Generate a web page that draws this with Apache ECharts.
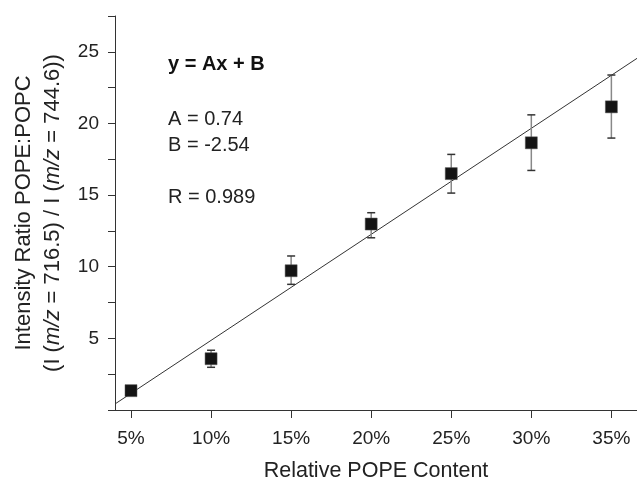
<!DOCTYPE html>
<html>
<head>
<meta charset="utf-8">
<script src="https://cdn.jsdelivr.net/npm/echarts@6/dist/echarts.min.js"></script>
<style>
  html, body { margin: 0; padding: 0; background: #fff; }
  #chart { width: 637px; height: 480px; }
</style>
</head>
<body>
<div id="chart"></div>
<script>
// POPE content (%) and measured intensity ratio with error bars
const xValues = [5, 10, 15, 20, 25, 30, 35]
const yMeans = [1.35, 3.58, 9.72, 12.98, 16.5, 18.65, 21.16]
const yLower = [1.05, 2.98, 8.77, 12.02, 15.14, 16.72, 18.98]
const yUpper = [1.65, 4.17, 10.75, 13.77, 17.84, 20.6, 23.38]
const xTicks = [5, 10, 15, 20, 25, 30, 35]

// linear fit y = Ax + B
const fitA = 0.74
const fitB = -2.54
const xMin = 4
const xMax = 36.6

const font = '"Liberation Sans", Arial, Helvetica, sans-serif'
const ink = '#222'
const axisColor = '#333'

const points = xValues.map((x, i) => [x, yMeans[i]])
const bars = xValues.map((x, i) => [x, yLower[i], yUpper[i]])
const fitLine = [xMin, xMax].map(x => [x, fitA * x + fitB])

const chart = echarts.init(document.getElementById('chart'))

chart.setOption({
  animation: false,
  backgroundColor: '#fff',
  grid: { left: 115, right: 0, top: 16, bottom: 70, outerBoundsMode: 'none', containLabel: false },
  xAxis: {
    type: 'value',
    min: xMin,
    max: xMax,
    name: 'Relative POPE Content',
    nameLocation: 'middle',
    nameGap: 50,
    nameTextStyle: { fontFamily: font, fontSize: 21.5, color: ink },
    axisLine: { lineStyle: { color: axisColor, width: 1 } },
    axisTick: { length: 8, customValues: xTicks, lineStyle: { color: axisColor } },
    axisLabel: {
      customValues: xTicks,
      margin: 19,
      fontFamily: font,
      fontSize: 19,
      color: ink,
      formatter: v => v + '%',
    },
    splitLine: { show: false },
  },
  yAxis: {
    type: 'value',
    min: 0,
    max: 27.5,
    interval: 2.5,
    name: '{n|Intensity Ratio POPE:POPC}\n{n|(I (}{i|m/z}{n| = 716.5) / I (}{i|m/z}{n| = 744.6))}',
    nameLocation: 'middle',
    nameRotate: 90,
    nameGap: 47,
    nameTextStyle: {
      fontFamily: font,
      fontSize: 22,
      color: ink,
      lineHeight: 29,
      rich: {
        n: { fontFamily: font, fontSize: 22, color: ink, lineHeight: 29 },
        i: { fontFamily: font, fontSize: 22, color: ink, lineHeight: 29, fontStyle: 'italic' },
      },
    },
    axisLine: { show: true, lineStyle: { color: axisColor, width: 1 } },
    axisTick: { show: true, length: 7, lineStyle: { color: axisColor } },
    axisLabel: {
      margin: 16,
      fontFamily: font,
      fontSize: 19,
      color: ink,
      formatter: v => (v > 0 && v % 5 === 0 ? String(v) : ''),
    },
    splitLine: { show: false },
  },
  graphic: [
    { type: 'text', left: 168, top: 54, style: { text: 'y = Ax + B', font: 'bold 20px ' + font, fill: '#111' } },
    { type: 'text', left: 168, top: 109, style: { text: 'A = 0.74', font: '20px ' + font, fill: ink } },
    { type: 'text', left: 168, top: 135, style: { text: 'B = -2.54', font: '20px ' + font, fill: ink } },
    { type: 'text', left: 168, top: 187, style: { text: 'R = 0.989', font: '20px ' + font, fill: ink } },
  ],
  series: [
    {
      type: 'line',
      data: fitLine,
      symbol: 'none',
      lineStyle: { color: '#333', width: 1 },
      z: 1,
    },
    {
      type: 'custom',
      data: bars,
      encode: { x: 0, y: [1, 2] },
      z: 2,
      renderItem(params, api) {
        const x = api.value(0)
        const lo = api.coord([x, api.value(1)])
        const hi = api.coord([x, api.value(2)])
        const w = 4
        return {
          type: 'group',
          children: [
            { type: 'line', shape: { x1: lo[0], y1: lo[1], x2: hi[0], y2: hi[1] }, style: { stroke: '#888', lineWidth: 1.5 } },
            { type: 'line', shape: { x1: hi[0] - w, y1: hi[1], x2: hi[0] + w, y2: hi[1] }, style: { stroke: '#333', lineWidth: 1.5 } },
            { type: 'line', shape: { x1: lo[0] - w, y1: lo[1], x2: lo[0] + w, y2: lo[1] }, style: { stroke: '#333', lineWidth: 1.5 } },
          ],
        }
      },
    },
    {
      type: 'scatter',
      data: points,
      symbol: 'rect',
      symbolSize: 12,
      itemStyle: { color: '#141414', borderColor: '#555', borderWidth: 0.5, opacity: 1 },
      z: 3,
    },
  ],
})
</script>
</body>
</html>
